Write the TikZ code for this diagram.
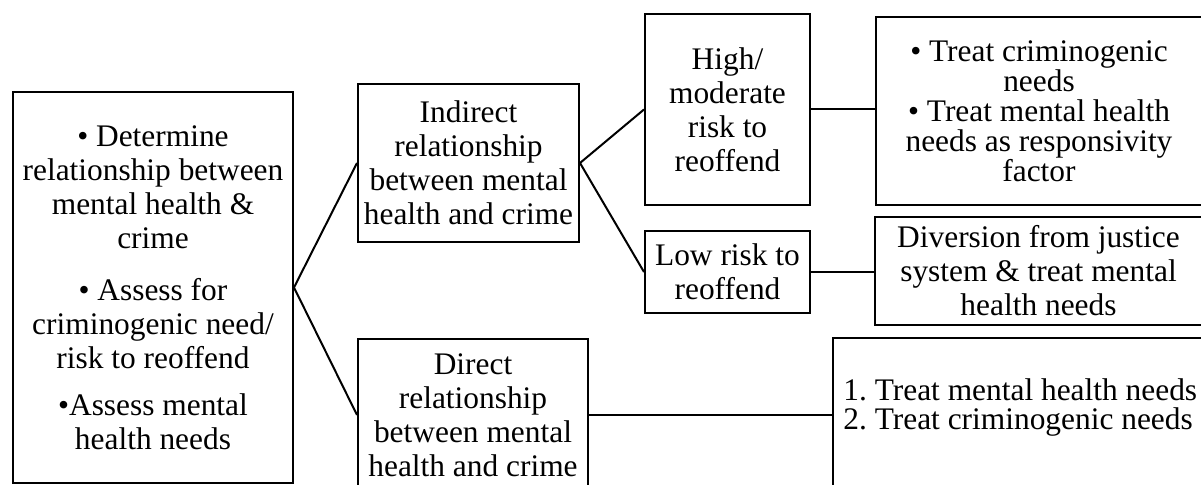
\documentclass[tikz,border=0pt]{standalone}
\usepackage{fontspec}
\setmainfont{Liberation Serif}
\begin{document}
\begin{tikzpicture}[x=0.5pt,y=-0.5pt,
% Styles
box/.style={draw,line width=1pt,rectangle,align=center,inner sep=0pt,font=\fontsize{15.7}{17}\selectfont},
tight box/.style={box,font=\fontsize{15.7}{15}\selectfont},
link/.style={line width=1pt}]
\useasboundingbox (0,0) rectangle (1201,485);
% First column
\node[box,minimum width=140pt,minimum height=195.5pt] (assess) at (153,287.5)
  {\textbullet{} Determine\\ relationship between\\ mental health \&\\ crime\\[9pt]
   \textbullet{} Assess for\\ criminogenic need/\\ risk to reoffend\\[6.5pt]
   \textbullet Assess mental\\ health needs};
% Second column
\node[box,minimum width=110.5pt,minimum height=79pt] (indirect) at (468.5,163)
  {Indirect\\ relationship\\ between mental\\ health and crime};
\node[box,minimum width=115pt,minimum height=76pt] (direct) at (473,415)
  {Direct\\ relationship\\ between mental\\ health and crime};
% Risk level
\node[box,minimum width=82.5pt,minimum height=95.5pt] (highrisk) at (727.5,109.5)
  {High/\\ moderate\\ risk to\\ reoffend};
\node[box,minimum width=82.5pt,minimum height=41pt] (lowrisk) at (727.5,272)
  {Low risk to\\ reoffend};
% Treatment
\node[tight box,minimum width=163pt,minimum height=94pt] (treatcrim) at (1039,111)
  {\textbullet{} Treat criminogenic\\ needs\\ \textbullet{} Treat mental health\\ needs as responsivity\\ factor};
\node[box,minimum width=163.5pt,minimum height=54pt] (diversion) at (1038.5,271)
  {Diversion from justice\\ system \& treat mental\\ health needs};
\node[box,minimum width=186pt,minimum height=77pt] (treatboth) at (1019,415) {};
\node[anchor=west,align=left,inner sep=0pt,font=\fontsize{15.7}{14.5}\selectfont\frenchspacing] (treatlist) at (843,407.5)
  {1. Treat mental health needs\\ 2. Treat criminogenic needs};
% Connectors
\draw[link] (assess.east) -- (indirect.west);
\draw[link] (assess.east) -- (direct.west);
\draw[link] (indirect.east) -- (highrisk.west);
\draw[link] (indirect.east) -- (lowrisk.west);
\draw[link] (highrisk.east) -- (highrisk.east -| treatcrim.west);
\draw[link] (lowrisk.east) -- (lowrisk.east -| diversion.west);
\draw[link] (direct.east) -- (treatboth.west);
\end{tikzpicture}
\end{document}
